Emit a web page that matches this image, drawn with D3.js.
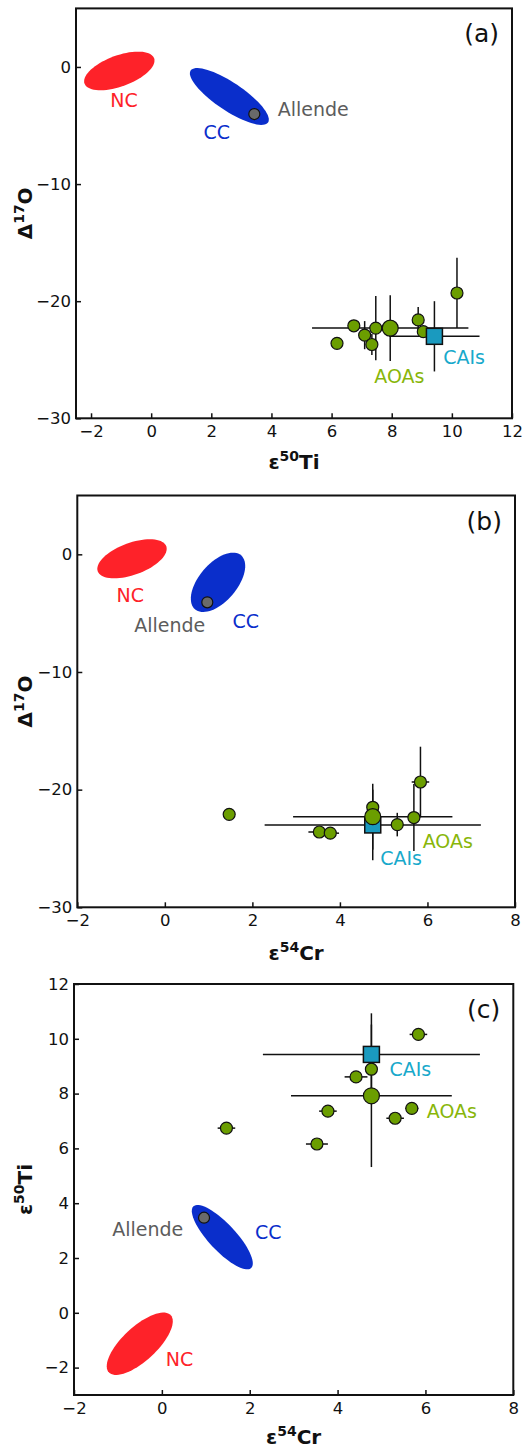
<!DOCTYPE html>
<html>
<head>
<meta charset="utf-8">
<script src="https://cdn.jsdelivr.net/npm/d3@7"></script>
<style>
  body { margin: 0; background: #fff; }
  text { font-family: "DejaVu Sans", sans-serif; }
</style>
</head>
<body>
<svg id="chart"></svg>
<script>
// ---- data ----
// panel (a): x = ε50Ti, y = Δ17O
const aoaA = [
  {x: 10.17, y: -19.3, xe: 0, ye: 3.0},
  {x: 6.74, y: -22.1, xe: 0, ye: 0},
  {x: 7.47, y: -22.3, xe: 0, ye: 2.75},
  {x: 7.10, y: -22.9, xe: 0, ye: 1.2},
  {x: 7.34, y: -23.7, xe: 0, ye: 0.9},
  {x: 6.18, y: -23.6, xe: 0, ye: 0},
  {x: 8.88, y: -21.6, xe: 0, ye: 1.1},
  {x: 9.05, y: -22.6, xe: 0, ye: 0}
];
const aoaMeanA = [{x: 7.95, y: -22.3, xe: 2.6, ye: 2.8}];
const caiA = [{x: 9.42, y: -23.0, xe: 1.5, ye: 3.0}];
const allendeA = [{x: 3.43, y: -4.02}];
const ncA = {cx: -1.06, cy: -0.34, u: [1.157, 1.081], v: [0.176, -1.245]};
const ccA = {cx: 2.60, cy: -2.52, u: [1.287, -2.216], v: [-0.260, -0.991]};

// panel (b): x = ε54Cr, y = Δ17O
const aoaB = [
  {x: 1.47, y: -22.1, xe: 0, ye: 0},
  {x: 3.53, y: -23.6, xe: 0.25, ye: 0},
  {x: 3.78, y: -23.7, xe: 0.2, ye: 0},
  {x: 4.75, y: -21.5, xe: 0, ye: 0},
  {x: 5.31, y: -22.97, xe: 0, ye: 1.0},
  {x: 5.69, y: -22.37, xe: 0, ye: 2.85},
  {x: 5.84, y: -19.35, xe: 0.2, ye: 3.0}
];
const aoaMeanB = [{x: 4.75, y: -22.3, xe: 1.82, ye: 2.8}];
const caiB = [{x: 4.75, y: -23.0, xe: 2.47, ye: 3.0}];
const allendeB = [{x: 0.97, y: -4.08}];
const ncB = {cx: -0.75, cy: -0.38, u: [0.783, 1.062], v: [0.125, -1.278]};
const ccB = {cx: 1.215, cy: -2.38, u: [0.526, 2.294], v: [0.33, -1.048]};

// panel (c): x = ε54Cr, y = ε50Ti
const aoaC = [
  {x: 1.47, y: 6.74, xe: 0.2, ye: 0},
  {x: 3.53, y: 6.16, xe: 0.25, ye: 0},
  {x: 3.78, y: 7.36, xe: 0.2, ye: 0},
  {x: 4.42, y: 8.61, xe: 0.26, ye: 0},
  {x: 4.77, y: 8.89, xe: 0, ye: 0},
  {x: 5.31, y: 7.10, xe: 0.2, ye: 0},
  {x: 5.69, y: 7.46, xe: 0.15, ye: 0},
  {x: 5.84, y: 10.16, xe: 0.2, ye: 0}
];
const aoaMeanC = [{x: 4.77, y: 7.92, xe: 1.83, ye: 2.6}];
const caiC = [{x: 4.77, y: 9.43, xe: 2.47, ye: 1.5}];
const allendeC = [{x: 0.96, y: 3.47}];
const ncC = {cx: -0.503, cy: -1.13, u: [0.704, 1.044], v: [0.263, -0.455]};
const ccC = {cx: 1.376, cy: 2.76, u: [0.657, -1.126], v: [-0.2245, -0.3365]};

const xTicksA = [-2, 0, 2, 4, 6, 8, 10, 12];
const xTicksBC = [-2, 0, 2, 4, 6, 8];
const yTicksO = [-30, -20, -10, 0];
const yTicksTi = [-2, 0, 2, 4, 6, 8, 10, 12];

// ---- style ----
const colNC = '#fe2229', colCC = '#0a2ecb', colAllende = '#5c5c5c';
const colAOA = '#6b9e00', colAOAText = '#88b60a';
const colCAI = '#1a9abf', colCAIText = '#18a9cb';

const W = 525, H = 1449;
const svg = d3.select('#chart').attr('width', W).attr('height', H);

const panels = [
  {tag: '(a)', box: {l: 76, r: 512, t: 8.4, b: 418.3}, xDom: [-2.5, 12], yDom: [-30, 5],
   xTicks: xTicksA, yTicks: yTicksO, xLab: ['ε', '50', 'Ti'], yLab: ['Δ', '17', 'O'], xLabY: 469.3,
   aoa: aoaA, mean: aoaMeanA, cai: caiA, allende: allendeA, nc: ncA, cc: ccA,
   labels: [
     {t: 'NC', x: -0.90, y: -3.44, c: colNC, a: 'middle'},
     {t: 'CC', x: 2.18, y: -6.16, c: colCC, a: 'middle'},
     {t: 'Allende', x: 4.21, y: -4.15, c: colAllende, a: 'start'},
     {t: 'AOAs', x: 7.42, y: -27.0, c: colAOAText, a: 'start'},
     {t: 'CAIs', x: 9.71, y: -25.4, c: colCAIText, a: 'start'}
   ]},
  {tag: '(b)', box: {l: 77.3, r: 515, t: 495.5, b: 907.3}, xDom: [-2, 8], yDom: [-30, 5],
   xTicks: xTicksBC, yTicks: yTicksO, xLab: ['ε', '54', 'Cr'], yLab: ['Δ', '17', 'O'], xLabY: 960,
   aoa: aoaB, mean: aoaMeanB, cai: caiB, allende: allendeB, nc: ncB, cc: ccB,
   labels: [
     {t: 'NC', x: -0.79, y: -4.08, c: colNC, a: 'middle'},
     {t: 'CC', x: 1.85, y: -6.29, c: colCC, a: 'middle'},
     {t: 'Allende', x: -0.70, y: -6.63, c: colAllende, a: 'start'},
     {t: 'CAIs', x: 4.92, y: -26.4, c: colCAIText, a: 'start'},
     {t: 'AOAs', x: 5.89, y: -24.98, c: colAOAText, a: 'start'}
   ]},
  {tag: '(c)', box: {l: 74, r: 513.3, t: 984, b: 1395}, xDom: [-2, 8], yDom: [-3, 12],
   xTicks: xTicksBC, yTicks: yTicksTi, xLab: ['ε', '54', 'Cr'], yLab: ['ε', '50', 'Ti'], xLabY: 1444,
   aoa: aoaC, mean: aoaMeanC, cai: caiC, allende: allendeC, nc: ncC, cc: ccC,
   labels: [
     {t: 'NC', x: 0.09, y: -1.94, c: colNC, a: 'start'},
     {t: 'CC', x: 2.12, y: 2.68, c: colCC, a: 'start'},
     {t: 'Allende', x: -1.13, y: 2.80, c: colAllende, a: 'start'},
     {t: 'CAIs', x: 5.18, y: 8.64, c: colCAIText, a: 'start'},
     {t: 'AOAs', x: 6.03, y: 7.10, c: colAOAText, a: 'start'}
   ]}
];

panels.forEach(drawPanel);

function drawPanel(p) {
  const b = p.box;
  const x = d3.scaleLinear().domain(p.xDom).range([b.l, b.r]);
  const y = d3.scaleLinear().domain(p.yDom).range([b.b, b.t]);
  const g = svg.append('g');

  // ticks (inward, bottom and left only)
  const xAxis = d3.axisBottom(x).tickValues(p.xTicks).tickSize(-5).tickPadding(7);
  const yAxis = d3.axisLeft(y).tickValues(p.yTicks).tickSize(-5).tickPadding(5);
  const gx = g.append('g').attr('transform', `translate(0,${b.b})`).call(xAxis);
  const gy = g.append('g').attr('transform', `translate(${b.l},0)`).call(yAxis);
  [gx, gy].forEach(a => {
    a.select('.domain').remove();
    a.selectAll('line').attr('stroke', '#111').attr('stroke-width', 1.5);
    a.selectAll('text').attr('font-size', '16.5px').attr('fill', '#111')
      .style('font-family', '"DejaVu Sans", sans-serif');
  });

  // ellipses
  const ell = e => d3.range(0, 73).map(i => {
    const t = i / 72 * 2 * Math.PI;
    return [x(e.cx + e.u[0] * Math.cos(t) + e.v[0] * Math.sin(t)),
            y(e.cy + e.u[1] * Math.cos(t) + e.v[1] * Math.sin(t))];
  });
  const line = d3.line().curve(d3.curveLinearClosed);
  g.append('path').attr('d', line(ell(p.nc))).attr('fill', colNC);
  g.append('path').attr('d', line(ell(p.cc))).attr('fill', colCC);

  // error bars
  const all = p.aoa.concat(p.cai, p.mean);
  const eb = g.append('g').attr('stroke', '#111').attr('stroke-width', 1.5);
  eb.selectAll('.xe').data(all.filter(d => d.xe > 0)).enter().append('line')
    .attr('x1', d => x(d.x - d.xe)).attr('x2', d => x(d.x + d.xe))
    .attr('y1', d => y(d.y)).attr('y2', d => y(d.y));
  eb.selectAll('.ye').data(all.filter(d => d.ye > 0)).enter().append('line')
    .attr('x1', d => x(d.x)).attr('x2', d => x(d.x))
    .attr('y1', d => y(d.y - d.ye)).attr('y2', d => y(d.y + d.ye));

  // markers
  g.selectAll('.aoa').data(p.aoa).enter().append('circle')
    .attr('cx', d => x(d.x)).attr('cy', d => y(d.y)).attr('r', 6)
    .attr('fill', colAOA).attr('stroke', '#111').attr('stroke-width', 1.2);
  g.selectAll('.cai').data(p.cai).enter().append('rect')
    .attr('x', d => x(d.x) - 8).attr('y', d => y(d.y) - 8)
    .attr('width', 16).attr('height', 16)
    .attr('fill', colCAI).attr('stroke', '#111').attr('stroke-width', 1.5);
  g.selectAll('.mean').data(p.mean).enter().append('circle')
    .attr('cx', d => x(d.x)).attr('cy', d => y(d.y)).attr('r', 8)
    .attr('fill', colAOA).attr('stroke', '#111').attr('stroke-width', 1.2);
  g.selectAll('.allende').data(p.allende).enter().append('circle')
    .attr('cx', d => x(d.x)).attr('cy', d => y(d.y)).attr('r', 5.5)
    .attr('fill', '#6a6a6a').attr('stroke', '#111').attr('stroke-width', 1.2);

  // annotations
  g.selectAll('.lab').data(p.labels).enter().append('text')
    .attr('x', d => x(d.x)).attr('y', d => y(d.y))
    .attr('text-anchor', d => d.a).attr('fill', d => d.c)
    .attr('font-size', '19px').text(d => d.t);

  g.append('text').attr('x', b.r - 13).attr('y', b.t + 34)
    .attr('text-anchor', 'end').attr('font-size', '25px').attr('fill', '#111').text(p.tag);

  // frame
  g.append('rect').attr('x', b.l).attr('y', b.t)
    .attr('width', b.r - b.l).attr('height', b.b - b.t)
    .attr('fill', 'none').attr('stroke', '#111').attr('stroke-width', 2);

  // axis labels
  const xl = g.append('text').attr('x', (b.l + b.r) / 2).attr('y', p.xLabY)
    .attr('text-anchor', 'middle').attr('font-weight', 'bold').attr('font-size', '20px').attr('fill', '#111');
  axisLabel(xl, p.xLab);
  const yl = g.append('text')
    .attr('transform', `translate(31.5,${(b.t + b.b) / 2}) rotate(-90)`)
    .attr('text-anchor', 'middle').attr('font-weight', 'bold').attr('font-size', '20px').attr('fill', '#111');
  axisLabel(yl, p.yLab);
}

function axisLabel(sel, parts) {
  sel.append('tspan').text(parts[0]);
  sel.append('tspan').attr('font-size', '14px').attr('dy', -8).text(parts[1]);
  sel.append('tspan').attr('dy', 8).text(parts[2]);
}
</script>
</body>
</html>
